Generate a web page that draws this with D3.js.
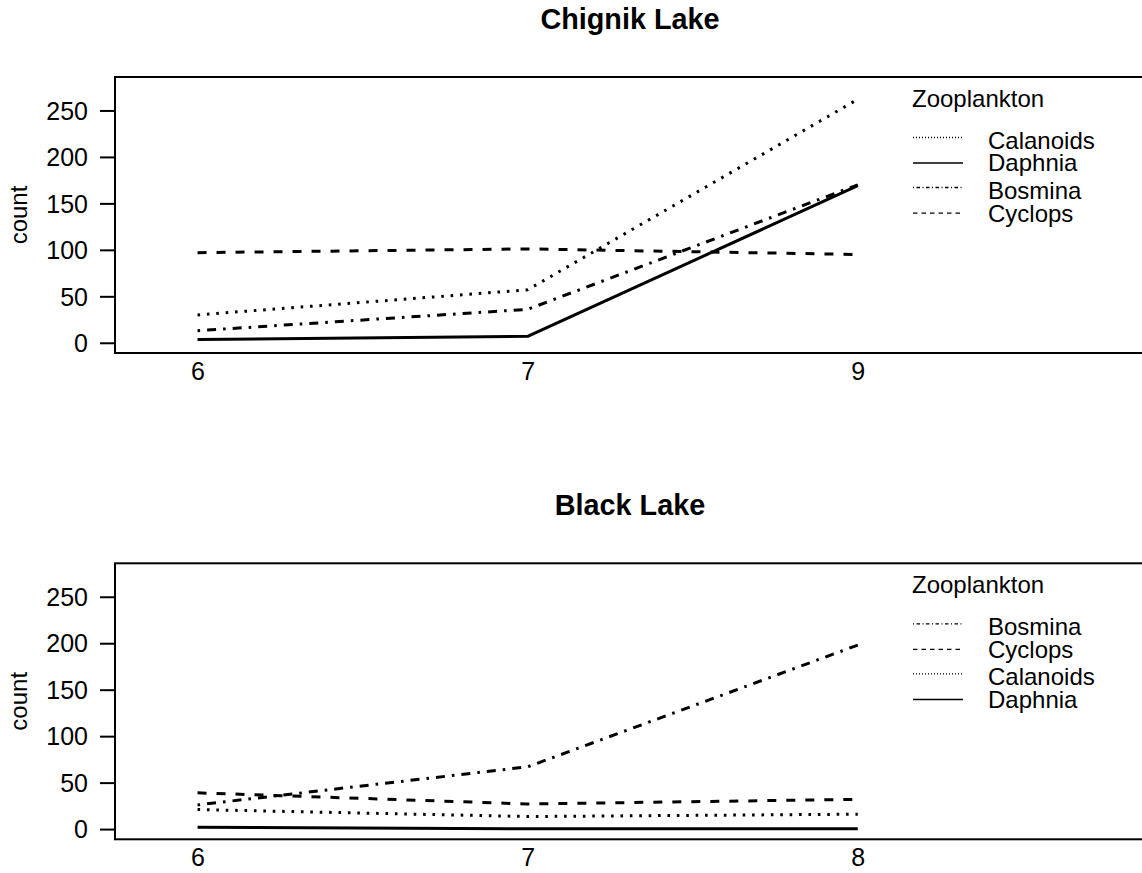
<!DOCTYPE html>
<html>
<head>
<meta charset="utf-8">
<script src="https://cdn.jsdelivr.net/npm/d3@7"></script>
<style>
  html, body { margin: 0; padding: 0; background: #fff; }
  svg { display: block; font-family: "Liberation Sans", Arial, Helvetica, sans-serif; }
</style>
</head>
<body>
<svg id="chart" width="1142" height="873"></svg>
<script>
// ---- data ----
const yTicks = [0, 50, 100, 150, 200, 250];

const chignikMonths = ["6", "7", "9"];
const chignikCalanoids = [30, 57, 262];
const chignikDaphnia = [3.5, 7, 169];
const chignikBosmina = [13, 36, 170];
const chignikCyclops = [97, 101, 95];
const chignikLegendOrder = ["Calanoids", "Daphnia", "Bosmina", "Cyclops"];

const blackMonths = ["6", "7", "8"];
const blackBosmina = [26, 67, 198];
const blackCyclops = [39, 27, 32];
const blackCalanoids = [21, 13.5, 16];
const blackDaphnia = [2, 0.3, 0.3];
const blackLegendOrder = ["Bosmina", "Cyclops", "Calanoids", "Daphnia"];

// ---- styles ----
const dataDash = {
  Calanoids: "2.6,6.8",
  Daphnia: null,
  Bosmina: "2.6,7,9,7",
  Cyclops: "9,10"
};
const legendDash = {
  Calanoids: "1,2",
  Daphnia: null,
  Bosmina: "1,2.5,3.5,2.5",
  Cyclops: "4.5,4"
};

const svg = d3.select("#chart");

function panel(cfg) {
  const left = 115, right = 1145;
  const top = cfg.top, bottom = cfg.top + 276;
  const g = svg.append("g");

  const x = d3.scaleLinear().domain([-0.25, 2.87]).range([left, right]);
  const y = d3.scaleLinear().domain([-11, 286]).range([bottom, top]);

  // title
  g.append("text")
    .attr("x", (left + right) / 2)
    .attr("y", top - 48)
    .attr("text-anchor", "middle")
    .attr("font-size", 28.8)
    .attr("font-weight", "bold")
    .text(cfg.title);

  // lines
  const line = d3.line()
    .x((d, i) => x(i))
    .y(d => y(d));

  const clipId = "clip" + Math.round(cfg.top);
  g.append("clipPath").attr("id", clipId)
    .append("rect").attr("x", left).attr("y", top).attr("width", right - left).attr("height", bottom - top);

  const lg = g.append("g").attr("clip-path", `url(#${clipId})`);
  cfg.series.forEach(s => {
    lg.append("path")
      .datum(s.values)
      .attr("d", line)
      .attr("fill", "none")
      .attr("stroke", "#000")
      .attr("stroke-width", 3)
      .attr("stroke-linejoin", "round")
      .attr("stroke-dasharray", dataDash[s.name]);
  });

  // box
  g.append("rect")
    .attr("x", left).attr("y", top)
    .attr("width", right - left).attr("height", bottom - top)
    .attr("fill", "none").attr("stroke", "#000").attr("stroke-width", 2);

  // y axis
  const yAxis = d3.axisLeft(y).tickValues(yTicks).tickSize(15).tickPadding(12).tickSizeOuter(0);
  const ya = g.append("g").attr("transform", `translate(${left},0)`).call(yAxis);
  ya.select(".domain").remove();
  ya.selectAll(".tick line").attr("stroke", "#000").attr("stroke-width", 2);
  ya.selectAll(".tick text")
    .attr("font-size", 25)
    .attr("font-family", "Liberation Sans, Arial, sans-serif")
    .attr("fill", "#000")
    .attr("dy", "0.35em");
  g.append("line")
    .attr("x1", left).attr("x2", left)
    .attr("y1", y(yTicks[0])).attr("y2", y(yTicks[yTicks.length - 1]))
    .attr("stroke", "#000").attr("stroke-width", 2);

  // x labels
  const xa = d3.axisBottom(x).tickValues(d3.range(cfg.months.length))
    .tickFormat(i => cfg.months[i]).tickSize(0).tickPadding(27);
  const xg = g.append("g").attr("transform", `translate(0,${bottom})`).call(xa);
  xg.select(".domain").remove();
  xg.selectAll(".tick text")
    .attr("font-size", 25)
    .attr("font-family", "Liberation Sans, Arial, sans-serif")
    .attr("fill", "#000")
    .attr("dy", 0);

  // y label
  g.append("text")
    .attr("transform", `translate(27,${(top + bottom) / 2}) rotate(-90)`)
    .attr("text-anchor", "middle")
    .attr("font-size", 24)
    .text("count");

  // legend
  const legX = 912;
  g.append("text")
    .attr("x", legX).attr("y", top + 30)
    .attr("font-size", 24)
    .text("Zooplankton");
  const rowY = [60.5, 86, 110.5, 136.2];
  cfg.legend.forEach((name, i) => {
    const ly = top + rowY[i];
    g.append("line")
      .attr("x1", legX + 1).attr("x2", legX + 51)
      .attr("y1", ly).attr("y2", ly)
      .attr("stroke", "#000").attr("stroke-width", 1.3)
      .attr("stroke-dasharray", legendDash[name]);
    const hasDesc = /[gjpqy]/.test(name);
    g.append("text")
      .attr("x", 988).attr("y", ly + (hasDesc ? 8.4 : 11))
      .attr("font-size", 24)
      .text(name);
  });
}

panel({
  top: 77,
  title: "Chignik Lake",
  months: chignikMonths,
  series: [
    { name: "Cyclops", values: chignikCyclops },
    { name: "Bosmina", values: chignikBosmina },
    { name: "Calanoids", values: chignikCalanoids },
    { name: "Daphnia", values: chignikDaphnia }
  ],
  legend: chignikLegendOrder
});

panel({
  top: 563.3,
  title: "Black Lake",
  months: blackMonths,
  series: [
    { name: "Cyclops", values: blackCyclops },
    { name: "Bosmina", values: blackBosmina },
    { name: "Calanoids", values: blackCalanoids },
    { name: "Daphnia", values: blackDaphnia }
  ],
  legend: blackLegendOrder
});
</script>
</body>
</html>
